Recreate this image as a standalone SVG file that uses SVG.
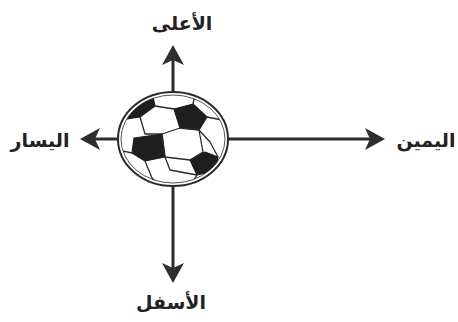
<svg xmlns="http://www.w3.org/2000/svg" width="458" height="322" viewBox="0 0 458 322">
  <style>
    .axis { stroke: #2e2e2e; stroke-width: 3; fill: none; marker-end: url(#head); }
    .label { font-family: "DejaVu Sans", "Noto Sans", sans-serif; font-weight: bold; font-size: 19px; fill: #222; text-anchor: middle; }
    .patch { fill: #1e1e1e; stroke: #1e1e1e; stroke-width: 1.2; stroke-linejoin: round; }
    .seam { stroke: #2a2a2a; stroke-width: 1.3; fill: none; stroke-linejoin: round; }
  </style>
  <defs>
    <marker id="head" markerUnits="userSpaceOnUse" markerWidth="20" markerHeight="24" viewBox="0 0 20 24" refX="6" refY="12" orient="auto">
      <path d="M20,12 L0,1 L5,12 L0,23 Z" fill="#2e2e2e"/>
    </marker>
    <clipPath id="ballClip">
      <ellipse cx="173" cy="139" rx="52" ry="44"/>
    </clipPath>
  </defs>
  <rect width="458" height="322" fill="#ffffff"/>

  <!-- connectors: four direction arrows -->
  <g id="connectors">
    <line class="axis" x1="173" y1="139" x2="173" y2="59"/>
    <line class="axis" x1="173" y1="139" x2="94" y2="139"/>
    <line class="axis" x1="173" y1="139" x2="371" y2="139"/>
    <line class="axis" x1="173" y1="139" x2="173" y2="269"/>
  </g>

  <!-- soccer ball -->
  <g id="ball">
    <ellipse cx="173" cy="139" rx="55" ry="47" fill="#ffffff" stroke="#2a2a2a" stroke-width="2"/>
    <ellipse cx="173" cy="139" rx="52" ry="44" fill="none" stroke="#555" stroke-width="1"/>
    <g clip-path="url(#ballClip)">
      <!-- black patches -->
      <polygon class="patch" points="120,120 131,106 153,97 155,106 140,117"/>
      <polygon class="patch" points="174,109 193,104 207,117 199,130 180,128"/>
      <polygon class="patch" points="134,138 162,134 165,157 145,161 132,153"/>
      <polygon class="patch" points="190,160 205,152 218,157 215,171 197,175"/>
      <!-- central panel -->
      <polygon class="seam" points="162,134 180,128 199,130 203,152 190,160 165,157"/>
      <!-- seams between panels -->
      <polyline class="seam" points="155,106 174,109"/>
      <polyline class="seam" points="153,97 160,90"/>
      <polyline class="seam" points="193,104 196,90"/>
      <polyline class="seam" points="140,117 145,134 162,134"/>
      <polyline class="seam" points="207,117 222,120"/>
      <polyline class="seam" points="199,130 210,142 218,157"/>
      <polyline class="seam" points="132,153 118,150"/>
      <polyline class="seam" points="145,161 152,178 160,186"/>
      <polyline class="seam" points="165,157 170,170 197,175"/>
      <polyline class="seam" points="197,175 190,186"/>
      <polyline class="seam" points="215,171 222,172"/>
    </g>
  </g>

  <g id="top"><text class="label" x="182" y="30">الأعلى</text></g>
  <g id="left"><text class="label" x="40" y="147">اليسار</text></g>
  <g id="right"><text class="label" x="426" y="147">اليمين</text></g>
  <g id="bottom"><text class="label" x="171" y="309">الأسفل</text></g>
</svg>
